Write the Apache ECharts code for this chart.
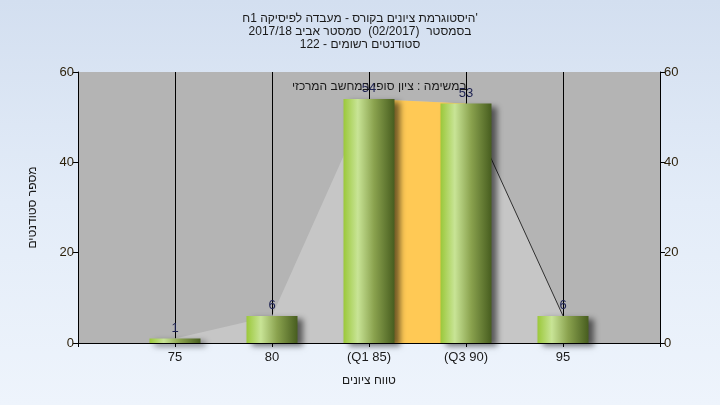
<!DOCTYPE html>
<html>
<head>
<meta charset="utf-8">
<script src="https://cdn.jsdelivr.net/npm/echarts@6/dist/echarts.min.js"></script>
<style>
html,body{margin:0;padding:0;}
#c{width:720px;height:405px;background:linear-gradient(180deg,#d3dff0 0%,#e3ecf8 50%,#eef4fc 100%);}
</style>
</head>
<body>
<div id="c"></div>
<script>
// ---- data ----
const titleLines = [
  "היסטוגרמת ציונים בקורס - מעבדה לפיסיקה 1ח'",
  "בסמסטר  (02/2017)  סמסטר אביב 2017/18",
  "סטודנטים רשומים - 122"
];
const grades = [75, 80, 85, 90, 95];
const counts = [1, 6, 54, 53, 6];
const tickLabels = ["75", "80", "(Q1 85)", "(Q3 90)", "95"];
const quartileGrades = [85, 90];
const quartileCounts = [54, 53];
const xName = "טווח ציונים";
const yName = "מספר סטודנטים";
const noteText = "במשימה : ציון סופי במחשב המרכזי";

const FONT = "'Liberation Sans','DejaVu Sans',Arial,sans-serif";
const chart = echarts.init(document.getElementById('c'), null, {renderer: 'canvas'});

const pts = grades.map((g, i) => [g, counts[i]]);
const qpts = quartileGrades.map((g, i) => [g, quartileCounts[i]]);
const labelMap = {};
grades.forEach((g, i) => labelMap[g] = tickLabels[i]);

const barGrad = new echarts.graphic.LinearGradient(0, 0, 1, 0, [
  {offset: 0, color: '#9bc83a'},
  {offset: 0.28, color: '#c8e496'},
  {offset: 0.6, color: '#8aa24e'},
  {offset: 1, color: '#475d1f'}
]);

const yAxisBase = {
  type: 'value', min: 0, max: 60, interval: 20,
  axisLine: {show: true, lineStyle: {color: '#000', width: 1}},
  axisTick: {show: true, length: 5, lineStyle: {color: '#000'}},
  splitLine: {show: false},
  axisLabel: {color: '#2a1e08', fontSize: 13, fontFamily: FONT, margin: 4}
};

chart.setOption({
  animation: false,
  title: {
    text: titleLines.join('\n'),
    left: 'center', top: 7,
    textStyle: {fontSize: 12, fontWeight: 'normal', color: '#1a1a1a', fontFamily: FONT, lineHeight: 13}
  },
  grid: {left: 78, right: 60, top: 72, bottom: 62, show: true, backgroundColor: '#b4b4b4', borderWidth: 0},
  xAxis: {
    type: 'value', min: 70, max: 100, interval: 5,
    name: xName, nameLocation: 'middle', nameGap: 32,
    nameTextStyle: {fontSize: 12, color: '#1a1a1a', fontFamily: FONT},
    axisLine: {show: true, onZero: false, lineStyle: {color: '#000'}},
    axisTick: {show: true, length: 4, lineStyle: {color: '#000'}},
    splitLine: {show: true, lineStyle: {color: '#000', width: 1}},
    axisLabel: {
      color: '#1a1a1a', fontSize: 13, fontFamily: FONT, margin: 8,
      formatter: v => labelMap[v] || ''
    }
  },
  yAxis: [
    Object.assign({}, yAxisBase, {
      position: 'left',
      name: yName, nameLocation: 'middle', nameGap: 39, nameRotate: 90,
      nameTextStyle: {fontSize: 12, color: '#1a1a1a', fontFamily: FONT}
    }),
    Object.assign({}, yAxisBase, {position: 'right'})
  ],
  graphic: [{
    type: 'text', left: 292, top: 81, z: 100,
    style: {text: noteText, fill: '#1a1a1a', font: '12px ' + FONT}
  }],
  series: [
    {
      type: 'line', data: pts, symbol: 'none', z: 1,
      lineStyle: {width: 0},
      areaStyle: {color: '#c6c6c6', opacity: 1},
      silent: true
    },
    {
      type: 'line', data: pts.slice(3), symbol: 'none', z: 3,
      lineStyle: {width: 1, color: '#303030'}
    },
    {
      type: 'line', data: qpts, symbol: 'none', z: 2,
      lineStyle: {width: 0},
      areaStyle: {color: '#ffc955', opacity: 1}
    },
    {
      type: 'bar', data: pts, barWidth: 51, z: 5,
      itemStyle: {
        color: barGrad,
        shadowColor: 'rgba(0,0,0,0.55)', shadowBlur: 6, shadowOffsetX: 5, shadowOffsetY: 3
      },
      label: {show: true, position: 'top', distance: 4, color: '#1c2050', fontSize: 13, fontFamily: FONT}
    }
  ]
});
</script>
</body>
</html>
